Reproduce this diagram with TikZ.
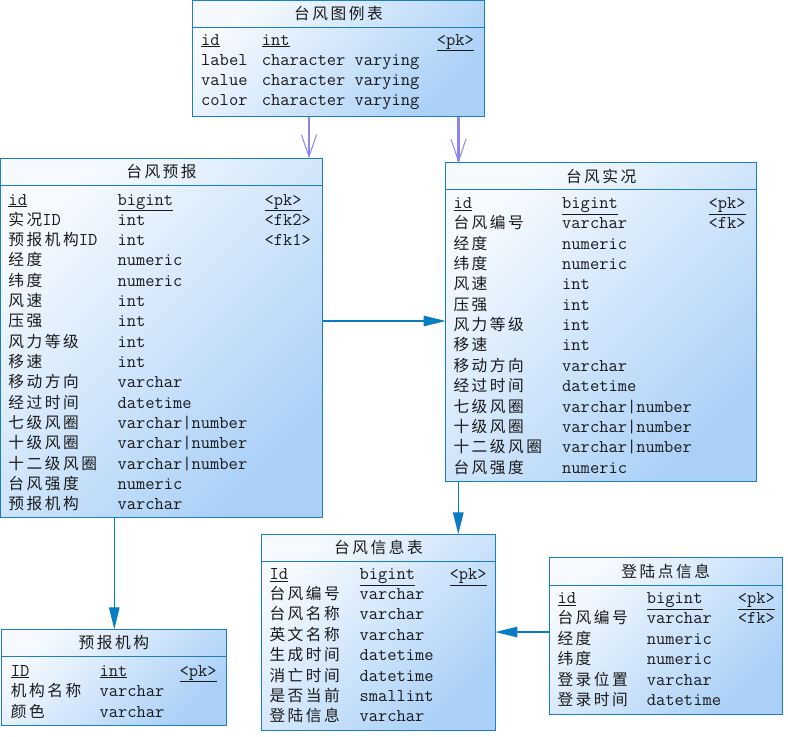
\documentclass[tikz,border=0pt]{standalone}
\usepackage{fontspec}
\newfontfamily\cjkf{Noto Sans CJK SC}[LetterSpace=16]
\newcommand{\C}[1]{{\fontsize{15.7}{18}\selectfont\cjkf #1}}
\usetikzlibrary{arrows.meta}
\definecolor{bd}{HTML}{1A7FC6}
\definecolor{shtop}{HTML}{F6FAFF}
\definecolor{shbot}{HTML}{AAD0F7}
\definecolor{txt}{HTML}{1A1A1A}
\definecolor{arr}{HTML}{0A7DC2}
\definecolor{purp}{HTML}{8A84F4}
\begin{document}
\begin{tikzpicture}[x=1pt,y=-1pt,
  tbox/.style={draw=bd, line width=1pt, top color=shtop, bottom color=shbot, shading angle=45, inner sep=0, outer sep=0, anchor=north west},
  sepline/.style={draw=bd, line width=1pt},
  cell/.style={anchor=base west, inner sep=0, text=txt, font=\fontsize{18}{20}\selectfont\ttfamily},
  ttl/.style={anchor=center, inner sep=0, text=txt, font=\fontsize{15.7}{18}\selectfont\cjkf},
  fk/.style={draw=arr, line width=1.2pt, -{Triangle[length=22pt,width=10.5pt]}},
  lg/.style={draw=purp, line width=2.8pt, -{Straight Barb[length=22pt,width=15pt,line width=1pt]}},
]
\useasboundingbox (0,0) rectangle (788,737);

% ---------- tables ----------
\node[tbox, minimum width=292pt, minimum height=116pt] (t1) at (192.5,0.5) {};
\draw[sepline] (t1.north west) ++(0,26.8) -- ++(292,0);
\node[tbox, minimum width=322pt, minimum height=359.4pt] (t2) at (0.5,158.3) {};
\draw[sepline] (t2.north west) ++(0,27.4) -- ++(322,0);
\node[tbox, minimum width=311pt, minimum height=319pt] (t3) at (445.7,162.7) {};
\draw[sepline] (t3.north west) ++(0,26.6) -- ++(311,0);
\node[tbox, minimum width=233.6pt, minimum height=196.4pt] (t4) at (261.7,534.3) {};
\draw[sepline] (t4.north west) ++(0,26.7) -- ++(233.6,0);
\node[tbox, minimum width=232.7pt, minimum height=156.7pt] (lp) at (549.3,557.3) {};
\draw[sepline] (lp.north west) ++(0,27.7) -- ++(232.7,0);
\node[tbox, minimum width=224.3pt, minimum height=95.7pt] (org) at (1.7,629.3) {};
\draw[sepline] (org.north west) ++(0,27.4) -- ++(224.3,0);

% ---------- titles ----------
\node[ttl] (t1h) at (338.5,13.9) {台风图例表};
\node[ttl] (t2h) at (161.5,172) {台风预报};
\node[ttl] (t3h) at (601.2,176) {台风实况};
\node[ttl] (t4h) at (378.5,547.7) {台风信息表};
\node[ttl] (lph) at (665.7,571.2) {登陆点信息};
\node[ttl] (orgh) at (113.9,643) {预报机构};

% ---------- 台风图例表 ----------
\node[cell] (t1n0) at (201,45) {\underline{id}};
\node[cell] (t1t0) at (261.7,45) {\underline{int}};
\node[cell] (t1k0) at (436.7,45) {\underline{<pk>}};
\foreach \a/\b [count=\k from 1] in {label/character varying, value/character varying, color/character varying}{
  \node[cell] (t1n\k) at (201,{45+20.2*\k}) {\a};
  \node[cell] (t1t\k) at (261.7,{45+20.2*\k}) {\b};
}

% ---------- 台风预报 ----------
\node[cell] (t2n0) at (8.3,205) {\underline{id}};
\node[cell] (t2t0) at (117.3,205) {\underline{bigint}};
\node[cell] (t2k0) at (264.3,205) {\underline{<pk>}};
\foreach \a/\b [count=\k from 1] in {\C{实况}ID/int, \C{预报机构}ID/int, \C{经度}/numeric, \C{纬度}/numeric, \C{风速}/int, \C{压强}/int, \C{风力等级}/int, \C{移速}/int, \C{移动方向}/varchar, \C{经过时间}/datetime, \C{七级风圈}/varchar|number, \C{十级风圈}/varchar|number, \C{十二级风圈}/varchar|number, \C{台风强度}/numeric, \C{预报机构}/varchar}{
  \node[cell] (t2n\k) at (8.3,{205+20.33*\k}) {\a};
  \node[cell] (t2t\k) at (117.3,{205+20.33*\k}) {\b};
}
\node[cell] (t2k1) at (264.3,225.3) {<fk2>};
\node[cell] (t2k2) at (264.3,245.7) {<fk1>};

% ---------- 台风实况 ----------
\node[cell] (t3n0) at (453.3,208.3) {\underline{id}};
\node[cell] (t3t0) at (562,208.3) {\underline{bigint}};
\node[cell] (t3k0) at (708.3,208.3) {\underline{<pk>}};
\foreach \a/\b [count=\k from 1] in {\C{台风编号}/varchar, \C{经度}/numeric, \C{纬度}/numeric, \C{风速}/int, \C{压强}/int, \C{风力等级}/int, \C{移速}/int, \C{移动方向}/varchar, \C{经过时间}/datetime, \C{七级风圈}/varchar|number, \C{十级风圈}/varchar|number, \C{十二级风圈}/varchar|number, \C{台风强度}/numeric}{
  \node[cell] (t3n\k) at (453.3,{208.3+20.38*\k}) {\a};
  \node[cell] (t3t\k) at (562,{208.3+20.38*\k}) {\b};
}
\node[cell] (t3k1) at (708.3,228.7) {<fk>};

% ---------- 台风信息表 ----------
\node[cell] (t4n0) at (269.3,579.3) {\underline{Id}};
\node[cell] (t4t0) at (359.3,579.3) {\underline{bigint}};
\node[cell] (t4k0) at (449.3,579.3) {\underline{<pk>}};
\foreach \a/\b [count=\k from 1] in {\C{台风编号}/varchar, \C{台风名称}/varchar, \C{英文名称}/varchar, \C{生成时间}/datetime, \C{消亡时间}/datetime, \C{是否当前}/smallint, \C{登陆信息}/varchar}{
  \node[cell] (t4n\k) at (269.3,{579.3+20.34*\k}) {\a};
  \node[cell] (t4t\k) at (359.3,{579.3+20.34*\k}) {\b};
}

% ---------- 登陆点信息 ----------
\node[cell] (lpn0) at (557.3,603.3) {\underline{id}};
\node[cell] (lpt0) at (646.7,603.3) {\underline{bigint}};
\node[cell] (lpk0) at (737.7,603.3) {\underline{<pk>}};
\foreach \a/\b [count=\k from 1] in {\C{台风编号}/varchar, \C{经度}/numeric, \C{纬度}/numeric, \C{登录位置}/varchar, \C{登录时间}/datetime}{
  \node[cell] (lpn\k) at (557.3,{603.3+20.5*\k}) {\a};
  \node[cell] (lpt\k) at (646.7,{603.3+20.5*\k}) {\b};
}
\node[cell] (lpk1) at (737.7,623.8) {<fk>};

% ---------- 预报机构 ----------
\node[cell] (orgn0) at (10.7,676) {\underline{ID}};
\node[cell] (orgt0) at (99.3,676) {\underline{int}};
\node[cell] (orgk0) at (179.3,676) {\underline{<pk>}};
\foreach \a/\b [count=\k from 1] in {\C{机构名称}/varchar, \C{颜色}/varchar}{
  \node[cell] (orgn\k) at (10.7,{676+20.6*\k}) {\a};
  \node[cell] (orgt\k) at (99.3,{676+20.6*\k}) {\b};
}

% ---------- connectors ----------
\draw[lg] ([xshift=-29.5pt]t1.south) -- ([xshift=-29.5pt]t1.south |- t2.north);
\draw[lg] ([xshift=120pt]t1.south) -- ([xshift=120pt]t1.south |- t3.north);
\draw[fk] ([yshift=17pt]t2.east) -- ([yshift=17pt]t2.east -| t3.west);
\draw[fk] ([xshift=-142.9pt]t3.south) -- ([xshift=-142.9pt]t3.south |- t4.north);
\draw[fk] ([yshift=3.6pt]lp.west) -- ([yshift=3.6pt]lp.west -| t4.east);
\draw[fk] ([xshift=-47.2pt]t2.south) -- ([xshift=-47.2pt]t2.south |- org.north);
\end{tikzpicture}
\end{document}
